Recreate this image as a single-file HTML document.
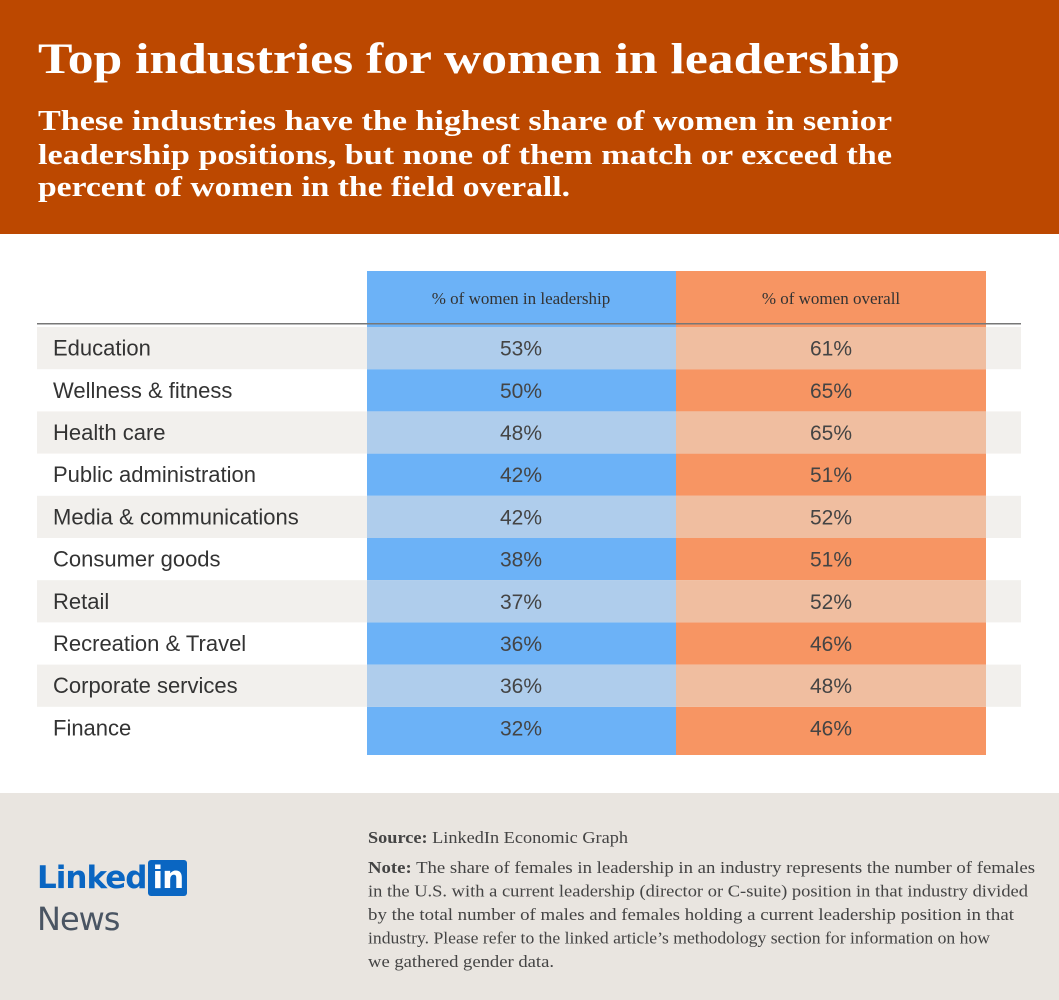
<!DOCTYPE html>
<html><head><meta charset="utf-8"><style>
body{margin:0;width:1059px;height:1000px;position:relative;background:#fff;font-family:"Liberation Sans",sans-serif;overflow:hidden}
.abs{position:absolute}
</style></head><body>
<div class="abs" style="left:0px;top:793px;width:1059px;height:207px;background:#E9E5E0"></div>
<svg class="abs" style="left:0;top:0" width="1059" height="234">
<rect width="1059" height="234" fill="#BC4800"/>
<text x="38" y="73" font-family="Liberation Serif" font-weight="bold" font-size="43" fill="#fff" textLength="862" lengthAdjust="spacingAndGlyphs">Top industries for women in leadership</text>
<g font-family="Liberation Serif" font-weight="bold" font-size="29" fill="#fff">
<text x="38" y="130" textLength="854" lengthAdjust="spacingAndGlyphs">These industries have the highest share of women in senior</text>
<text x="38" y="164" textLength="854" lengthAdjust="spacingAndGlyphs">leadership positions, but none of them match or exceed the</text>
<text x="38" y="196" textLength="532" lengthAdjust="spacingAndGlyphs">percent of women in the field overall.</text>
</g></svg>
<svg class="abs" style="left:0;top:234px" width="1059" height="559" id="tbl"></svg>
<div class="abs" style="left:37px;top:860px;font-family:'DejaVu Sans',sans-serif;font-weight:bold;font-size:31px;color:#0A66C2;letter-spacing:-1px">Linked<span style="display:inline-block;background:#0A66C2;color:#fff;padding:0 4px;border-radius:3px;margin-left:2px;line-height:36px">in</span></div>
<div class="abs" style="left:37px;top:900px;font-family:'DejaVu Sans',sans-serif;font-size:32px;color:#4A5563;letter-spacing:-1px">News</div>
<svg class="abs" style="left:0;top:793px" width="1059" height="207" font-family="Liberation Serif" font-size="17" fill="#444">
<text x="368" y="50" textLength="260" lengthAdjust="spacingAndGlyphs"><tspan font-weight="bold">Source:</tspan> LinkedIn Economic Graph</text>
<text x="368" y="80" textLength="667" lengthAdjust="spacingAndGlyphs"><tspan font-weight="bold">Note:</tspan> The share of females in leadership in an industry represents the number of females</text>
<text x="368" y="103.5" textLength="660" lengthAdjust="spacingAndGlyphs">in the U.S. with a current leadership (director or C-suite) position in that industry divided</text>
<text x="368" y="127" textLength="646" lengthAdjust="spacingAndGlyphs">by the total number of males and females holding a current leadership position in that</text>
<text x="368" y="150.5" textLength="622" lengthAdjust="spacingAndGlyphs">industry. Please refer to the linked article’s methodology section for information on how</text>
<text x="368" y="174" textLength="186" lengthAdjust="spacingAndGlyphs">we gathered gender data.</text>
</svg>
<script>
const industries=["Education","Wellness & fitness","Health care","Public administration","Media & communications","Consumer goods","Retail","Recreation & Travel","Corporate services","Finance"];
const leadership=[53,50,48,42,42,38,37,36,36,32];
const overall=[61,65,65,51,52,51,52,46,48,46];
const headers=["% of women in leadership","% of women overall"];
const svg=document.getElementById('tbl');const NS="http://www.w3.org/2000/svg";
function mk(t,a,p){const e=document.createElementNS(NS,t);for(const k in a)e.setAttribute(k,a[k]);(p||svg).appendChild(e);return e;}
const off=234,rowTop=327-off,rowH=42.2;
const c1=mk('rect',{x:367,y:271-off,width:309,height:484,fill:'#6CB2F7'});


const c2=mk('rect',{x:676,y:271-off,width:310,height:484,fill:'#F79563'});


headers.forEach((h,i)=>{const t=mk('text',{x:i?831:521,y:304-off,'text-anchor':'middle','font-family':'Liberation Serif','font-size':17,fill:'#333'});t.textContent=h;

});
const ln=mk('rect',{x:37,y:323-off,width:984,height:1.5,fill:'#777'});


industries.forEach((n,i)=>{const y=rowTop+i*rowH;
if(i%2==0){mk('rect',{x:37,y:y,width:984,height:rowH,fill:'#F2F0ED'});mk('rect',{x:367,y:y,width:309,height:rowH,fill:'#AFCDEC'});mk('rect',{x:676,y:y,width:310,height:rowH,fill:'#F0BEA0'});}
const cy=y+rowH/2+7.5;
const l=mk('text',{x:53,y:cy,'font-size':22,fill:'#333'});l.textContent=n;


const a=mk('text',{x:521,y:cy,'text-anchor':'middle','font-size':21,fill:'#444'});a.textContent=leadership[i]+'%';


const b=mk('text',{x:831,y:cy,'text-anchor':'middle','font-size':21,fill:'#444'});b.textContent=overall[i]+'%';


});
</script>
</body></html>
